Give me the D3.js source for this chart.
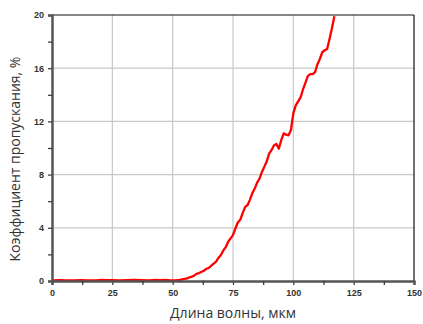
<!DOCTYPE html>
<html><head><meta charset="utf-8">
<script src="https://cdn.jsdelivr.net/npm/d3@7"></script>
<style>body{margin:0;background:#fff}svg{display:block}</style>
</head><body>
<script>
const wavelength = [0,3,6,9,12,15,18,21,22,25,28,31,34,37,40,43,45,47,49,51,52,53,54,55,56,57,58,59,60,61,62,63,64,65,66,67,68,69,70,71,72,73,74,75,76,77,78,79,80,81,82,83,84,85,86,87,88,89,90,91,92,93,94,95,96,97,98,99,100,101,102,103,104,105,106,107,108,109,110,111,112,113,114,115,116,117];
const transmission = [0.05,0.06,0.04,0.05,0.06,0.05,0.05,0.08,0.06,0.07,0.05,0.06,0.08,0.06,0.05,0.09,0.06,0.08,0.05,0.04,0.06,0.08,0.12,0.16,0.2,0.28,0.33,0.42,0.55,0.6,0.7,0.78,0.92,0.98,1.15,1.3,1.45,1.75,1.95,2.3,2.55,2.95,3.2,3.45,3.95,4.4,4.6,5.1,5.55,5.7,6.1,6.6,6.95,7.4,7.7,8.2,8.6,9.0,9.6,9.85,10.2,10.3,9.95,10.6,11.1,11.0,10.95,11.35,12.6,13.2,13.5,13.8,14.4,14.9,15.4,15.55,15.55,15.7,16.3,16.7,17.2,17.35,17.45,18.2,19.0,19.9];
const xTicks = [0,25,50,75,100,125,150];
const yTicks = [0,4,8,12,16,20];
const xMinor = [12.5,37.5,62.5,87.5,112.5,137.5];
const yMinor = [2,6,10,14,18];
const xTitle = "Длина волны, мкм";
const yTitle = "Коэффициент пропускания, %";

const W = 423, H = 324;
const m = {l:52, r:414, t:15, b:281};
const svg = d3.select("body").append("svg").attr("width",W).attr("height",H);
const x = d3.scaleLinear().domain([0,150]).range([m.l,m.r]);
const y = d3.scaleLinear().domain([0,20]).range([m.b,m.t]);

// grid
svg.append("g").selectAll("line").data(xTicks.filter(d=>d>0&&d<150)).join("line")
  .attr("x1",d=>x(d)).attr("x2",d=>x(d)).attr("y1",m.t).attr("y2",m.b)
  .attr("stroke","#c8c8c8").attr("stroke-width",1.2);
svg.append("g").selectAll("line").data(yTicks.filter(d=>d>0&&d<20)).join("line")
  .attr("y1",d=>y(d)).attr("y2",d=>y(d)).attr("x1",m.l).attr("x2",m.r)
  .attr("stroke","#c8c8c8").attr("stroke-width",1.2);

// frame top/right
svg.append("line").attr("x1",m.l).attr("x2",m.r).attr("y1",m.t).attr("y2",m.t).attr("stroke","#111").attr("stroke-width",1.2);
svg.append("line").attr("x1",m.r).attr("x2",m.r).attr("y1",m.t).attr("y2",m.b).attr("stroke","#111").attr("stroke-width",1.2);

// curve
const line = d3.line().x((d,i)=>x(wavelength[i])).y(d=>y(d));
svg.append("path").datum(transmission).attr("d",line).attr("fill","none")
  .attr("stroke","#ff0000").attr("stroke-width",2.3).attr("stroke-linejoin","round");

// axes
const xAxis = d3.axisBottom(x).tickValues(xTicks).tickSize(4).tickPadding(5);
const gx = svg.append("g").attr("transform",`translate(0,${m.b})`).call(xAxis);
const gxm = svg.append("g").attr("transform",`translate(0,${m.b})`).call(d3.axisBottom(x).tickValues(xMinor).tickSize(4).tickFormat(""));
const yAxis = d3.axisLeft(y).tickValues(yTicks).tickSize(4).tickPadding(4);
const gy = svg.append("g").attr("transform",`translate(${m.l},0)`).call(yAxis);
const gym = svg.append("g").attr("transform",`translate(${m.l},0)`).call(d3.axisLeft(y).tickValues(yMinor).tickSize(4).tickFormat(""));
[gx,gxm,gy,gym].forEach(g=>{
  g.select(".domain").attr("stroke","#555").attr("stroke-width",2);
  g.selectAll(".tick line").attr("stroke","#333").attr("stroke-width",1.2);
  g.selectAll(".tick text").attr("fill","#333").style("font-family","Liberation Sans, Arial, sans-serif")
    .style("font-size","9px").style("font-weight","bold");
});

svg.append("text").attr("x",(m.l+m.r)/2).attr("y",318).attr("text-anchor","middle")
  .style("font-family","Open Sans, sans-serif").style("font-size","14px").attr("fill","#333").text(xTitle);
svg.append("text").attr("transform",`translate(20,159) rotate(-90)`).attr("text-anchor","middle")
  .style("font-family","Open Sans, sans-serif").style("font-size","14px").attr("fill","#333").text(yTitle);
</script>
</body></html>
